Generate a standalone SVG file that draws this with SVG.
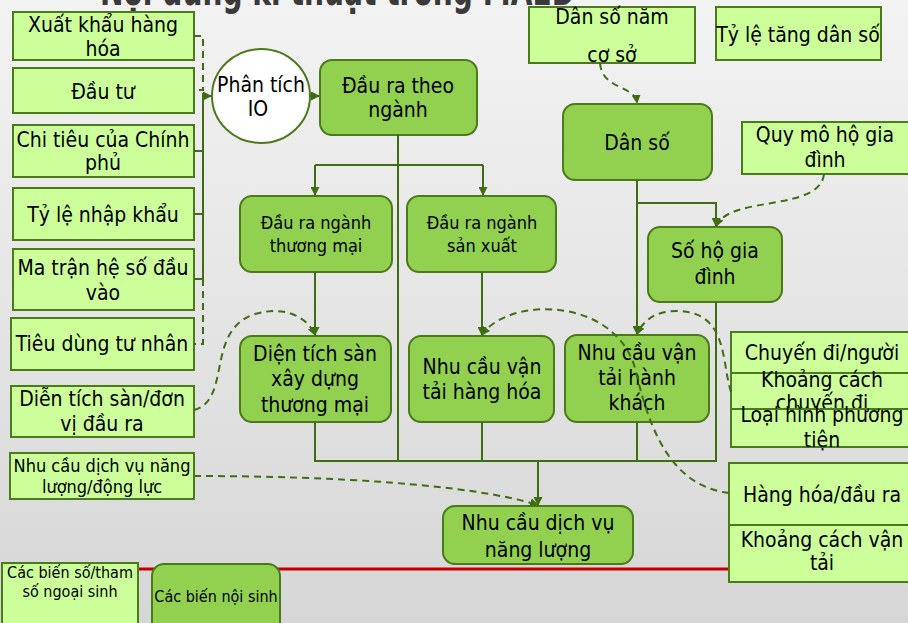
<svg xmlns="http://www.w3.org/2000/svg" width="908" height="623" viewBox="0 0 908 623">
<defs>
<linearGradient id="bg" x1="0" y1="0" x2="0" y2="1">
<stop offset="0" stop-color="#f3f3f3"/>
<stop offset="1" stop-color="#d6d6d6"/>
</linearGradient>
<marker id="arr" markerUnits="userSpaceOnUse" markerWidth="9" markerHeight="9" refX="8" refY="4.5" orient="auto">
<path d="M0,0 L9,4.5 L0,9 z" fill="#3f6e12"/>
</marker>
<style>
text{font-family:"DejaVu Sans Condensed","DejaVu Sans",sans-serif;font-stretch:condensed;fill:#000;text-anchor:middle}
.ex{fill:#ccff99;stroke:#4a7a1a;stroke-width:2}
.en{fill:#92d050;stroke:#4a7a1a;stroke-width:2}
.f19{font-size:21px}
.f17{font-size:18px}
.f15{font-size:16px}
.ln{fill:none;stroke:#3f6e12;stroke-width:2}
.ds{fill:none;stroke:#3f6e12;stroke-width:2;stroke-dasharray:7,5}
</style>
</defs>
<rect width="908" height="623" fill="url(#bg)"/>
<text x="100" y="5" textLength="475" lengthAdjust="spacingAndGlyphs" style="font-size:44px;font-weight:bold;fill:#3a3a3a;text-anchor:start;font-family:'DejaVu Sans',sans-serif;font-stretch:normal">Nội dung kĩ thuật trong MAED</text>
<line x1="138" y1="569" x2="735" y2="569" stroke="#c00000" stroke-width="3"/>

<g id="n-xuatkhau"><rect class="ex" x="13" y="12" width="181" height="48"/><text class="f19" x="103" y="32">Xuất khẩu hàng</text><text class="f19" x="103" y="56">hóa</text></g>
<g id="n-dautu"><rect class="ex" x="13" y="68" width="181" height="45"/><text class="f19" x="103" y="99">Đầu tư</text></g>
<g id="n-chitieu"><rect class="ex" x="13" y="125" width="181" height="52"/><text class="f19" x="103" y="147">Chi tiêu của Chính</text><text class="f19" x="103" y="170">phủ</text></g>
<g id="n-nhapkhau"><rect class="ex" x="13" y="188" width="181" height="52"/><text class="f19" x="103" y="222">Tỷ lệ nhập khẩu</text></g>
<g id="n-matran"><rect class="ex" x="13" y="249" width="181" height="61"/><text class="f19" x="103" y="275">Ma trận hệ số đầu</text><text class="f19" x="103" y="300">vào</text></g>
<g id="n-tieudung"><rect class="ex" x="11" y="318" width="183" height="52"/><text class="f19" x="102" y="351">Tiêu dùng tư nhân</text></g>
<g id="n-dientichdon"><rect class="ex" x="11" y="386" width="183" height="51"/><text class="f19" x="102" y="406">Diễn tích sàn/đơn</text><text class="f19" x="102" y="431">vị đầu ra</text></g>
<g id="n-nhucaudl"><rect class="ex" x="10" y="453" width="184" height="46"/><text class="f17" x="102" y="472">Nhu cầu dịch vụ năng</text><text class="f17" x="102" y="493">lượng/động lực</text></g>
<g id="n-ngoaisinh"><rect class="ex" x="2" y="563" width="136" height="70"/><text class="f15" x="70" y="578">Các biến số/tham</text><text class="f15" x="70" y="597">số ngoại sinh</text></g>
<g id="n-noisinh"><rect class="en" x="152" y="564" width="128" height="70" rx="12"/><text class="f15" x="216" y="602">Các biến nội sinh</text></g>

<g id="n-io"><ellipse cx="261" cy="96" rx="49" ry="47" fill="#fff" stroke="#4a7a1a" stroke-width="2"/><text class="f19" x="261" y="92">Phân tích</text><text class="f19" x="258" y="116">IO</text></g>
<g id="n-daura"><rect class="en" x="320" y="60" width="157" height="75" rx="12"/><text class="f19" x="398" y="93">Đầu ra theo</text><text class="f19" x="398" y="117">ngành</text></g>
<g id="n-thuongmai"><rect class="en" x="240" y="196" width="152" height="76" rx="12"/><text class="f17" x="316" y="229">Đầu ra ngành</text><text class="f17" x="316" y="252">thương mại</text></g>
<g id="n-sanxuat"><rect class="en" x="407" y="196" width="149" height="76" rx="12"/><text class="f17" x="482" y="229">Đầu ra ngành</text><text class="f17" x="482" y="252">sản xuất</text></g>
<g id="n-dientich"><rect class="en" x="240" y="336" width="151" height="86" rx="12"/><text class="f19" x="315" y="361">Diện tích sàn</text><text class="f19" x="315" y="386">xây dựng</text><text class="f19" x="315" y="412">thương mại</text></g>
<g id="n-hanghoa"><rect class="en" x="409" y="336" width="145" height="86" rx="12"/><text class="f19" x="482" y="374">Nhu cầu vận</text><text class="f19" x="482" y="399">tải hàng hóa</text></g>
<g id="n-hanhkhach"><rect class="en" x="565" y="335" width="144" height="87" rx="12"/><text class="f19" x="637" y="360">Nhu cầu vận</text><text class="f19" x="637" y="385">tải hành</text><text class="f19" x="637" y="410">khách</text></g>
<g id="n-nangluong"><rect class="en" x="443" y="506" width="190" height="58" rx="12"/><text class="f19" x="538" y="530">Nhu cầu dịch vụ</text><text class="f19" x="538" y="557">năng lượng</text></g>
<g id="n-danso"><rect class="en" x="563" y="104" width="149" height="76" rx="12"/><text class="f19" x="637" y="150">Dân số</text></g>
<g id="n-soho"><rect class="en" x="648" y="227" width="134" height="75" rx="12"/><text class="f19" x="715" y="258">Số hộ gia</text><text class="f19" x="715" y="284">đình</text></g>
<g id="n-dansonam"><rect class="ex" x="529" y="7" width="166" height="56"/><text class="f19" x="612" y="24">Dân số năm</text><text class="f19" x="612" y="62">cơ sở</text></g>
<g id="n-tyletang"><rect class="ex" x="716" y="7" width="165" height="53"/><text class="f19" x="798" y="42">Tỷ lệ tăng dân số</text></g>
<g id="n-quymo"><rect class="ex" x="742" y="122" width="170" height="52"/><text class="f19" x="825" y="142">Quy mô hộ gia</text><text class="f19" x="825" y="167">đình</text></g>
<g id="n-chuyendi"><rect class="ex" x="731" y="332" width="185" height="41"/><text class="f19" x="822" y="360">Chuyến đi/người</text></g>
<g id="n-khoangcach"><rect class="ex" x="731" y="373" width="185" height="36"/><text class="f19" x="822" y="387">Khoảng cách</text><text class="f19" x="822" y="410">chuyến đi</text></g>
<g id="n-loaihinh"><rect class="ex" x="731" y="409" width="185" height="38"/><text class="f19" x="822" y="422">Loại hình phương</text><text class="f19" x="822" y="447">tiện</text></g>
<g id="n-hanghoadaura"><rect class="ex" x="729" y="463" width="187" height="62"/><text class="f19" x="822" y="502">Hàng hóa/đầu ra</text></g>
<g id="n-khoangcachvt"><rect class="ex" x="729" y="525" width="187" height="57"/><text class="f19" x="822" y="547">Khoảng cách vận</text><text class="f19" x="822" y="570">tải</text></g>

<g id="connectors">
<path class="ln" d="M194,151 H203 M194,214 H203 M194,279 H203 M203,93 V279"/>
<path class="ds" d="M194,36 H203 V90 H194 M203,279 V344 H194"/>
<path class="ln" d="M203,96 H211" marker-end="url(#arr)"/>
<path class="ln" d="M310,96 H319" marker-end="url(#arr)"/>
<path class="ln" d="M398,135 V461 M315,165 H483"/>
<path class="ln" d="M315,165 V195" marker-end="url(#arr)"/>
<path class="ln" d="M483,165 V195" marker-end="url(#arr)"/>
<path class="ln" d="M315,272 V335" marker-end="url(#arr)"/>
<path class="ln" d="M482,272 V335" marker-end="url(#arr)"/>
<path class="ln" d="M637,180 V334" marker-end="url(#arr)"/>
<path class="ln" d="M637,203 H716 V226" marker-end="url(#arr)"/>
<path class="ln" d="M315,422 V461 H716 V302 M482,422 V461 M637,422 V461"/>
<path class="ln" d="M538,461 V505" marker-end="url(#arr)"/>
<path class="ds" d="M600,63 C602,90 635,85 637,103" marker-end="url(#arr)"/>
<path class="ds" d="M824,174 C820,212 730,195 716,226" marker-end="url(#arr)"/>
<path class="ds" d="M194,410 C232,400 205,330 255,314 C286,305 308,318 315,335" marker-end="url(#arr)"/>
<path class="ds" d="M194,476 C330,476 470,484 538,505" marker-end="url(#arr)"/>
<path class="ds" d="M729,493 C672,486 650,432 636,372 C618,296 508,296 482,335" marker-end="url(#arr)"/>
<path class="ds" d="M731,392 C721,360 728,311 676,311 C655,311 643,321 637,334" marker-end="url(#arr)"/>
</g>
</svg>
